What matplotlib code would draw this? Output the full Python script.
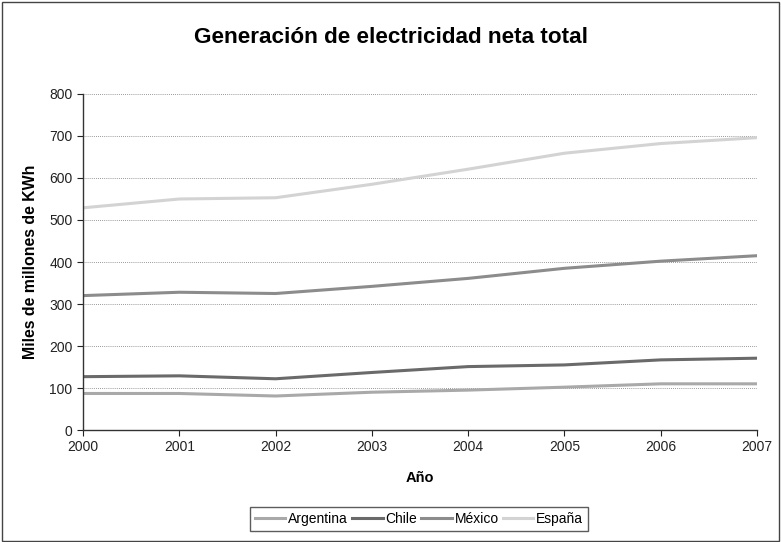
import matplotlib
matplotlib.use("Agg")
import matplotlib.pyplot as plt
from matplotlib.patches import Rectangle

plt.rcParams['font.family'] = ['Liberation Sans', 'DejaVu Sans']

years = [2000, 2001, 2002, 2003, 2004, 2005, 2006, 2007]
argentina = [87, 87, 81, 90, 95, 102, 110, 110]
chile = [127, 129, 122, 137, 151, 155, 167, 171]
mexico = [320, 328, 325, 342, 361, 385, 402, 415]
espana = [529, 550, 553, 585, 621, 659, 682, 696]

series_names = ["Argentina", "Chile", "México", "España"]
series_values = [argentina, chile, mexico, espana]
colors = ["#a9a9a9", "#6a6a6a", "#8c8c8c", "#d3d3d3"]

fig = plt.figure(figsize=(7.81, 5.42), dpi=100)
fig.patches.append(Rectangle((0.002, 0.002), 0.995, 0.995, transform=fig.transFigure,
                             fill=False, edgecolor="#444444", linewidth=1.0))
ax = fig.add_axes([0.1063, 0.2066, 0.8630, 0.6200])

for name, vals, c in zip(series_names, series_values, colors):
    ax.plot(years, vals, color=c, linewidth=2.2, label=name)

ax.set_xlim(2000, 2007)
ax.set_ylim(0, 800)
ax.set_yticks(range(0, 801, 100))
ax.set_xticks(years)
ax.yaxis.grid(True, linestyle=(0, (1, 1.5)), color="#777777", linewidth=0.6)
ax.set_axisbelow(True)
for s in ["top", "right"]:
    ax.spines[s].set_visible(False)
for s in ["left", "bottom"]:
    ax.spines[s].set_color("#333333")
    ax.spines[s].set_linewidth(1.0)
ax.tick_params(axis="both", labelsize=10, colors="#222222", length=4, direction="out")

ax.set_xlabel("Año", fontsize=10.5, fontweight="bold", labelpad=12)
ax.set_ylabel("Miles de millones de KWh", fontsize=11.4, fontweight="bold", labelpad=8)
fig.text(0.5, 0.931, "Generación de electricidad neta total", ha="center", va="center",
         fontsize=16.2, fontweight="bold")

leg = fig.legend(loc="center", bbox_to_anchor=(0.5365, 0.0424), ncol=4, frameon=True,
                 fontsize=10, handlelength=2.2, handletextpad=0.2, columnspacing=0.3,
                 borderpad=0.35, borderaxespad=0, fancybox=False)
leg.get_frame().set_edgecolor("#333333")
leg.get_frame().set_linewidth(1.0)

fig.savefig("out.png", dpi=100)
